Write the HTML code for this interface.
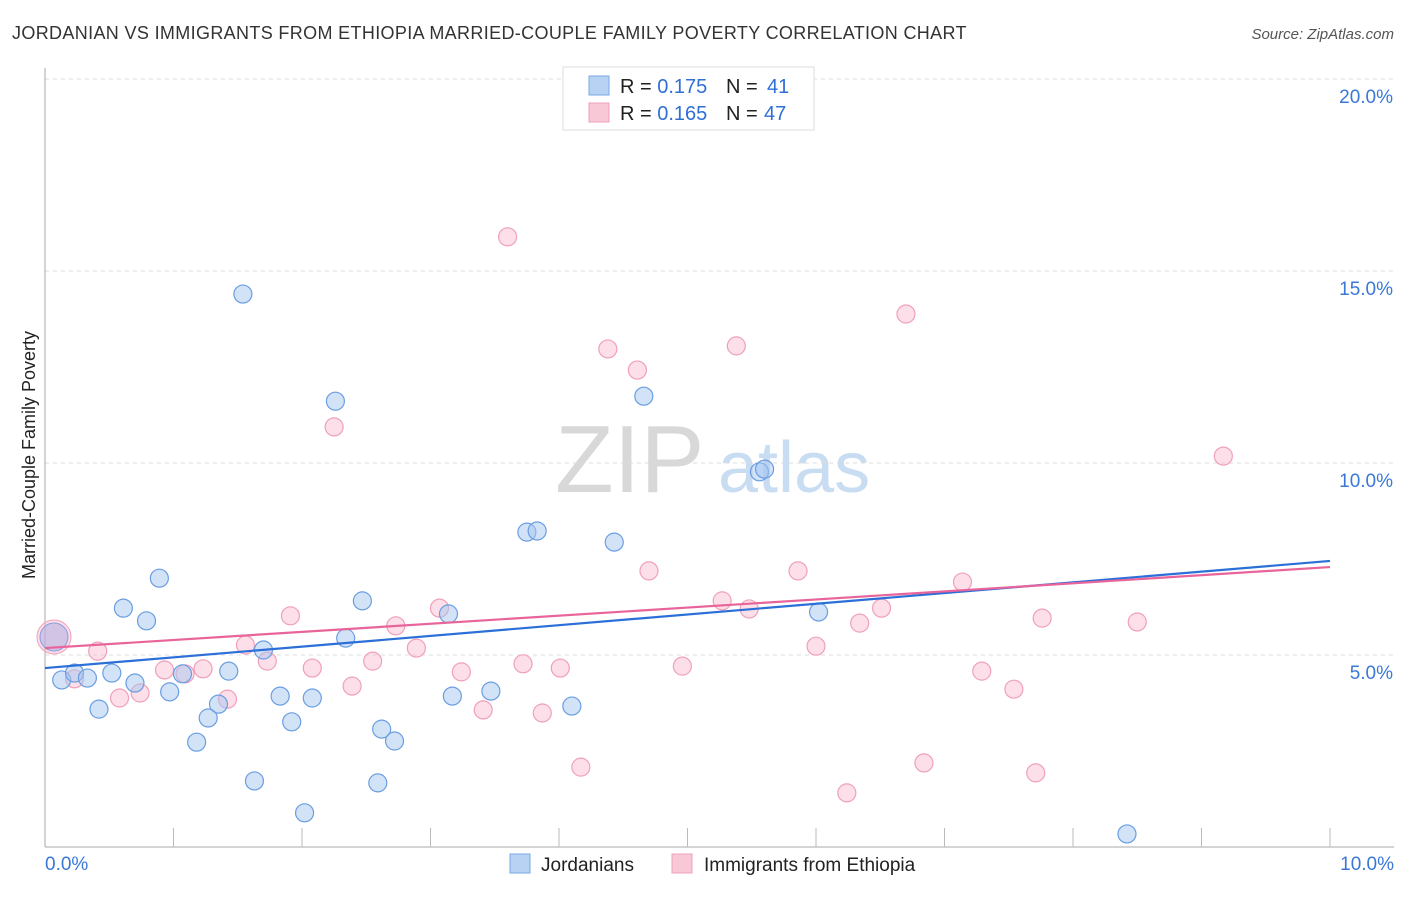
<!DOCTYPE html>
<html><head><meta charset="utf-8">
<style>
body{margin:0;background:#fff;font-family:"Liberation Sans",sans-serif;}
svg text{font-family:"Liberation Sans",sans-serif;}
</style></head>
<body>
<svg id="chart" width="1406" height="892" xmlns="http://www.w3.org/2000/svg">
<text x="12" y="39" font-size="18" fill="#333" letter-spacing="0.35">JORDANIAN VS IMMIGRANTS FROM ETHIOPIA MARRIED-COUPLE FAMILY POVERTY CORRELATION CHART</text>
<text x="1394" y="39" font-size="15" fill="#555" text-anchor="end" font-style="italic">Source: ZipAtlas.com</text>
<text x="555" y="492" font-size="96" fill="#d8d8d8" font-family="Liberation Serif">ZIP</text>
<text x="718" y="492" font-size="72" fill="#c8dcf2">atlas</text>
<g id="grid"></g>
<g id="axes"></g>
<g id="marks"></g>
<text transform="translate(35,455) rotate(-90)" font-size="18" fill="#222" text-anchor="middle">Married-Couple Family Poverty</text>
<g>
<rect x="563" y="67" width="251" height="63" fill="#fff" stroke="#ddd"/>
<rect x="589" y="76" width="20" height="19" fill="#b8d2f4" stroke="#7aa8e4"/>
<text x="620" y="93" font-size="20" fill="#222">R = <tspan fill="#2f6fd6">0.175</tspan></text>
<text x="726" y="93" font-size="20" fill="#222">N = <tspan x="767" fill="#2f6fd6">41</tspan></text>
<rect x="589" y="103" width="20" height="19" fill="#f9c8d6" stroke="#f0a0b8"/>
<text x="620" y="120" font-size="20" fill="#222">R = <tspan fill="#2f6fd6">0.165</tspan></text>
<text x="726" y="120" font-size="20" fill="#222">N = <tspan x="764" fill="#2f6fd6">47</tspan></text>
</g>
<g>
<rect x="510" y="854" width="20" height="19" fill="#b8d2f4" stroke="#7aa8e4"/>
<text x="541" y="871" font-size="19" fill="#222">Jordanians</text>
<rect x="672" y="854" width="20" height="19" fill="#f9c8d6" stroke="#f0a0b8"/>
<text x="704" y="871" font-size="19" fill="#222">Immigrants from Ethiopia</text>
</g>
</svg>
<script>
const yTicks=[5,10,15,20];
const yTickLabels=["5.0%","10.0%","15.0%","20.0%"];
const xTickLabels=["0.0%","10.0%"];
const blueX=[1.54,2.26,4.66,5.56,5.60,3.75,3.83,4.43,0.89,2.47,0.61,0.79,3.14,6.02,2.34,1.70,0.13,0.23,0.33,0.52,1.07,1.43,0.70,0.97,0.42,1.35,1.83,2.08,3.17,3.47,4.10,1.27,1.92,2.62,2.72,1.18,1.63,2.59,2.02,8.42];
const blueY=[14.40,11.61,11.74,9.77,9.84,8.20,8.23,7.94,7.00,6.41,6.22,5.89,6.07,6.12,5.44,5.13,4.35,4.53,4.40,4.53,4.51,4.58,4.27,4.04,3.59,3.72,3.93,3.88,3.93,4.06,3.67,3.36,3.26,3.07,2.76,2.73,1.72,1.67,0.89,0.34];
const pinkX=[3.60,6.70,4.38,5.38,4.61,2.25,9.17,4.70,5.86,7.14,5.27,5.48,3.07,1.91,6.51,6.34,7.76,8.50,2.73,1.56,0.41,6.00,2.89,1.73,2.55,2.08,3.72,4.01,4.96,0.93,1.23,1.09,3.24,7.29,0.23,2.39,7.54,0.74,0.58,1.42,3.41,3.87,4.17,6.84,7.71,6.24];
const pinkY=[15.89,13.88,12.97,13.05,12.42,10.94,10.18,7.19,7.19,6.90,6.41,6.20,6.22,6.02,6.22,5.83,5.96,5.86,5.76,5.26,5.10,5.23,5.18,4.84,4.84,4.66,4.77,4.66,4.71,4.61,4.64,4.51,4.56,4.58,4.38,4.19,4.11,4.01,3.88,3.85,3.57,3.49,2.08,2.19,1.93,1.41];
const bigPoint=[0.07,5.47];
const blueTrend=[4.66,7.45];
const pinkTrend=[5.18,7.29];
const NS="http://www.w3.org/2000/svg";
const X=v=>45+v*128.5;
const Y=v=>847-v*38.4;
function mk(tag,attrs,parent){const e=document.createElementNS(NS,tag);for(const k in attrs)e.setAttribute(k,attrs[k]);document.getElementById(parent).appendChild(e);return e;}
yTicks.forEach((t,i)=>{
 const l=mk('line',{x1:45,x2:1394,y1:Y(t),y2:Y(t),stroke:'#ddd','stroke-dasharray':'4,4'},'grid');
 
 
 const tx=mk('text',{x:1393,y:Y(t)+24,'font-size':19,fill:'#3a78d8','text-anchor':'end'},'axes');
 tx.textContent=yTickLabels[i];
 
 
});
const ax=mk('line',{x1:45,x2:45,y1:68,y2:847,stroke:'#aaa'},'axes');


const bx=mk('line',{x1:45,x2:1394,y1:847,y2:847,stroke:'#aaa'},'axes');


for(let i=1;i<=10;i++){
 const t=mk('line',{x1:X(i),x2:X(i),y1:828,y2:847,stroke:'#bbb'},'axes');
 
 
}
[[0,'start',45],[10,'end',1394]].forEach((a,i)=>{
 const t=mk('text',{x:a[2],y:870,'font-size':19,fill:'#3a78d8','text-anchor':a[1]},'axes');
 t.textContent=xTickLabels[i];
 
 
});
function pts(xs,ys,fill,stroke,name){
 xs.forEach((x,i)=>{
  const c=mk('circle',{cx:X(x),cy:Y(ys[i]),r:9,fill:fill,stroke:stroke,'stroke-width':1.2},'marks');
  
  
 });
}
pts(pinkX,pinkY,'rgba(248,185,205,0.45)','#f0a0ba','point-ethiopia');
pts(blueX,blueY,'rgba(165,198,240,0.5)','#6a9ee2','point-jordanian');
const b1=mk('circle',{cx:X(bigPoint[0]),cy:Y(bigPoint[1]),r:17,fill:'rgba(248,185,205,0.45)',stroke:'#f0a0ba'},'marks');


const b2=mk('circle',{cx:X(bigPoint[0]),cy:Y(bigPoint[1]),r:14,fill:'rgba(165,170,225,0.5)',stroke:'#8a9ee0'},'marks');


const tl1=mk('line',{x1:X(0),y1:Y(blueTrend[0]),x2:X(10),y2:Y(blueTrend[1]),stroke:'#2b6fd8','stroke-width':2.2},'marks');


const tl2=mk('line',{x1:X(0),y1:Y(pinkTrend[0]),x2:X(10),y2:Y(pinkTrend[1]),stroke:'#e8649a','stroke-width':2.2},'marks');


</script>
</body></html>
